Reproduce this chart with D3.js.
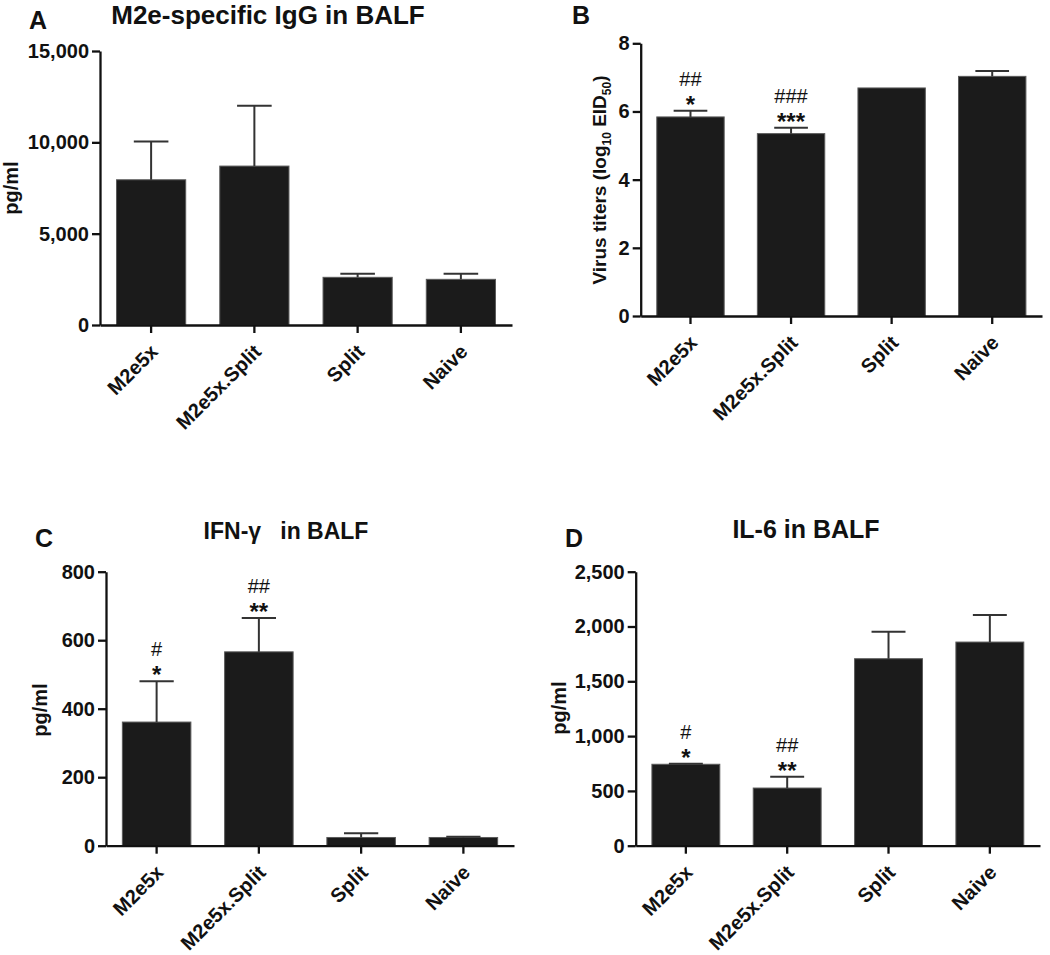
<!DOCTYPE html>
<html>
<head>
<meta charset="utf-8">
<script src="https://cdn.jsdelivr.net/npm/d3@7"></script>
<style>
  html, body { margin: 0; padding: 0; background: #fff; }
  svg { display: block; font-family: "Liberation Sans", Arial, Helvetica, sans-serif; }
</style>
</head>
<body>
<svg id="chart" width="1050" height="955"></svg>
<script>
// ---------- data ----------
const categories = ["M2e5x", "M2e5x.Split", "Split", "Naive"];

const iggMeans = [7950, 8700, 2610, 2500];
const iggSem   = [2100, 3300, 190, 300];
const iggTicks = [0, 5000, 10000, 15000];

const virusMeans = [5.84, 5.35, 6.69, 7.03];
const virusSem   = [0.18, 0.17, 0, 0.16];
const virusTicks = [0, 2, 4, 6, 8];
const virusStars = ["*", "***", "", ""];
const virusHash  = ["##", "###", "", ""];

const ifnMeans = [361, 566, 24, 24];
const ifnSem   = [119, 99, 12, 2];
const ifnTicks = [0, 200, 400, 600, 800];
const ifnStars = ["*", "**", "", ""];
const ifnHash  = ["#", "##", "", ""];

const il6Means = [743, 526, 1706, 1858];
const il6Sem   = [5, 104, 247, 247];
const il6Ticks = [0, 500, 1000, 1500, 2000, 2500];
const il6Stars = ["*", "**", "", ""];
const il6Hash  = ["#", "##", "", ""];

// ---------- panels ----------
const panels = [
  { letter: "A", lx: 29, ly: 29, title: "M2e-specific IgG in BALF", tx: 268, ty: 24, tsize: 26,
    x0: 100, x1: 512, yTop: 51, yBot: 325, max: 15000, ticks: iggTicks, fmt: d3.format(","),
    means: iggMeans, sem: iggSem, stars: null, hash: null,
    ylab: "pg/ml", ylx: 18, yly: 188 },
  { letter: "B", lx: 572, ly: 24, title: null,
    x0: 640.7, x1: 1042, yTop: 43.3, yBot: 316, max: 8, ticks: virusTicks, fmt: d3.format("d"),
    means: virusMeans, sem: virusSem, stars: virusStars, hash: virusHash,
    ylab: "virus", ylx: 606, yly: 180 },
  { letter: "C", lx: 35, ly: 547, title: "IFN-\u03b3   in BALF", tx: 286, ty: 539, tsize: 23,
    x0: 106, x1: 514, yTop: 571.7, yBot: 845.7, max: 800, ticks: ifnTicks, fmt: d3.format("d"),
    means: ifnMeans, sem: ifnSem, stars: ifnStars, hash: ifnHash,
    ylab: "pg/ml", ylx: 47, yly: 710 },
  { letter: "D", lx: 565, ly: 547, title: "IL-6 in BALF", tx: 806, ty: 538, tsize: 25,
    x0: 635.7, x1: 1040, yTop: 571.7, yBot: 845.7, max: 2500, ticks: il6Ticks, fmt: d3.format(","),
    means: il6Means, sem: il6Sem, stars: il6Stars, hash: il6Hash,
    ylab: "pg/ml", ylx: 566, yly: 708 }
];

const svg = d3.select("#chart");
const FONT = "Liberation Sans, Arial, sans-serif";

panels.forEach(p => {
  const g = svg.append("g");
  const x = d3.scaleBand().domain(categories).range([p.x0, p.x1]).paddingInner(0.33).paddingOuter(0.16);
  const y = d3.scaleLinear().domain([0, p.max]).range([p.yBot, p.yTop]);

  // panel letter
  g.append("text").attr("x", p.lx).attr("y", p.ly)
    .attr("font-size", 25).attr("font-weight", "bold").attr("fill", "#111").text(p.letter);

  // title
  if (p.title) {
    g.append("text").attr("x", p.tx).attr("y", p.ty).attr("text-anchor", "middle")
      .attr("font-size", p.tsize).attr("font-weight", "bold").attr("fill", "#111")
      .style("white-space", "pre").text(p.title);
  }

  // bars
  const data = categories.map((c, i) => ({ c, m: p.means[i], s: p.sem[i], i }));
  g.selectAll("rect.bar").data(data).join("rect")
    .attr("class", "bar")
    .attr("x", d => x(d.c)).attr("width", x.bandwidth())
    .attr("y", d => y(d.m)).attr("height", d => y(0) - y(d.m))
    .attr("fill", "#1b1b1b").attr("stroke", "#5a5a5a").attr("stroke-width", 1);

  // error bars (upper only)
  const eb = g.selectAll("g.err").data(data.filter(d => d.s > 0)).join("g").attr("class", "err");
  eb.append("line")
    .attr("x1", d => x(d.c) + x.bandwidth() / 2).attr("x2", d => x(d.c) + x.bandwidth() / 2)
    .attr("y1", d => y(d.m)).attr("y2", d => y(d.m + d.s))
    .attr("stroke", "#333").attr("stroke-width", 2);
  eb.append("line")
    .attr("x1", d => x(d.c) + x.bandwidth() / 4).attr("x2", d => x(d.c) + x.bandwidth() * 3 / 4)
    .attr("y1", d => y(d.m + d.s)).attr("y2", d => y(d.m + d.s))
    .attr("stroke", "#333").attr("stroke-width", 2);

  // annotations
  if (p.stars) {
    data.forEach(d => {
      const top = y(d.m + d.s);
      const cx = x(d.c) + x.bandwidth() / 2;
      if (p.stars[d.i]) {
        g.append("text").attr("x", cx).attr("y", top - 12 + 14).attr("text-anchor", "middle")
          .attr("font-size", 24).attr("font-weight", "bold").attr("fill", "#111").text(p.stars[d.i]);
      }
      if (p.hash[d.i]) {
        g.append("text").attr("x", cx).attr("y", top - 32 + 7).attr("text-anchor", "middle")
          .attr("font-size", 20).attr("fill", "#111").text(p.hash[d.i]);
      }
    });
  }

  // y axis
  const ya = g.append("g").attr("transform", `translate(${p.x0},0)`)
    .call(d3.axisLeft(y).tickValues(p.ticks).tickFormat(p.fmt).tickSize(8).tickSizeOuter(0).tickPadding(3));
  ya.select(".domain").attr("stroke", "#111").attr("stroke-width", 2.3);
  ya.selectAll(".tick line").attr("stroke", "#111").attr("stroke-width", 2.3);
  ya.selectAll(".tick text").attr("font-size", 20).attr("font-weight", "bold").attr("fill", "#111")
    .attr("font-family", FONT);

  // x axis
  const xa = g.append("g").attr("transform", `translate(0,${p.yBot})`)
    .call(d3.axisBottom(x).tickSize(8).tickSizeOuter(0));
  xa.select(".domain").attr("stroke", "#111").attr("stroke-width", 2.3);
  xa.selectAll(".tick line").attr("stroke", "#111").attr("stroke-width", 2.3);
  xa.selectAll(".tick text")
    .attr("font-size", 20).attr("font-weight", "bold").attr("fill", "#111")
    .attr("font-family", FONT)
    .attr("text-anchor", "end").attr("dy", null).attr("y", null)
    .attr("transform", "translate(8,28) rotate(-45)");

  // y label
  const yl = g.append("text").attr("transform", `translate(${p.ylx},${p.yly}) rotate(-90)`)
    .attr("text-anchor", "middle").attr("font-size", 20).attr("font-weight", "bold").attr("fill", "#111");
  if (p.ylab === "virus") {
    yl.attr("font-size", 19);
    yl.append("tspan").text("Virus titers (log");
    yl.append("tspan").attr("font-size", 12).attr("dy", 5).text("10");
    yl.append("tspan").attr("dy", -5).text(" EID");
    yl.append("tspan").attr("font-size", 12).attr("dy", 5).text("50");
    yl.append("tspan").attr("dy", -5).text(")");
  } else {
    yl.text(p.ylab);
  }
});
</script>
</body>
</html>
